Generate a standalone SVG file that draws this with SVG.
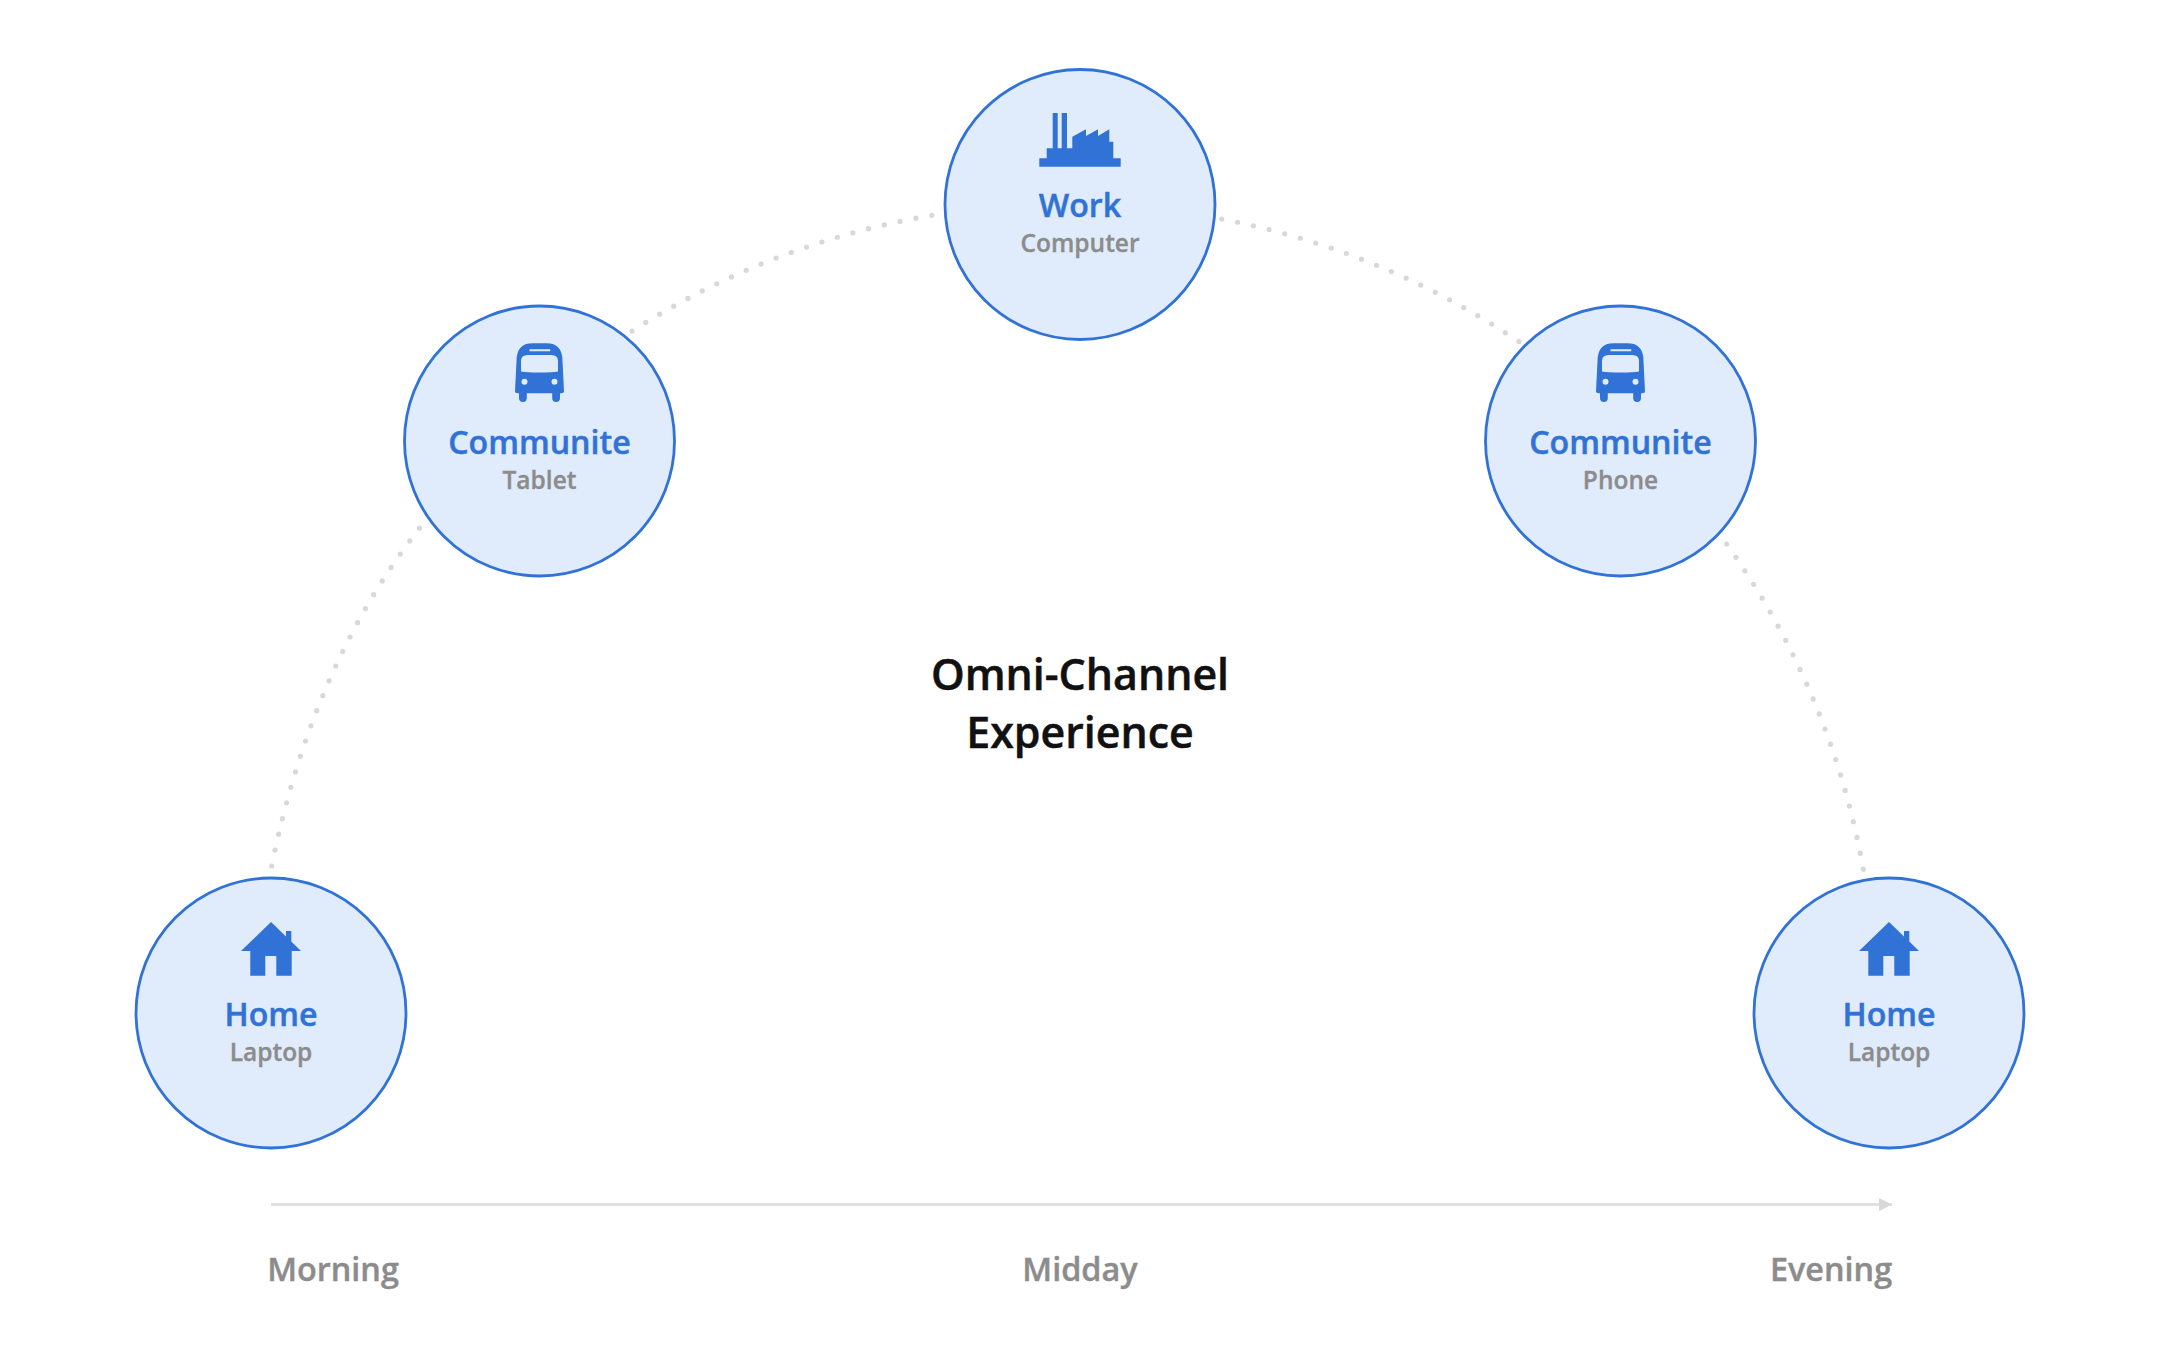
<svg xmlns="http://www.w3.org/2000/svg" width="2160" height="1350" viewBox="0 0 2160 1350">
<style>
text{font-family:"Open Sans","Noto Sans","Liberation Sans",sans-serif;text-anchor:middle;font-weight:600}
.c{fill:#e0ecfc;stroke:#3072d6;stroke-width:2.8}
.i{fill:#3072d6}
.t{fill:#3072d6;stroke:#3072d6;stroke-width:.45;font-size:32.200px}
.s{fill:#8c8c8c;stroke:#8c8c8c;stroke-width:.35;font-size:24.500px}
.a{fill:#8c8c8c;stroke:#8c8c8c;stroke-width:.4;font-size:32.400px}
.h{fill:#111;stroke:#111;stroke-width:.5;font-size:42.900px}
.d{fill:none;stroke:#d8d8d8;stroke-width:5.200;stroke-linecap:round;stroke-dasharray:0 1}
</style>
<defs>
<g id="house"><path class="i" d="M0-91L15-76.500V-82H20.300V-71.500L30-62H20.700V-37.300H5.300V-57H-5.700V-37.300H-20.700V-62H-30Z"/></g>
<g id="bus"><path class="i" fill-rule="evenodd" d="M-23-80Q-23-97.700 -7-97.700H7Q23-97.700 23-80L24.500-49.500Q24.500-47.700 22-47.700H20.500V-43A3.900 3.900 0 0 1 12.700-43V-47.700H-12.700V-43A3.900 3.900 0 0 1 -20.500-43V-47.700H-22Q-24.500-47.700 -24.500-49.500ZM-18.500-80V-69.500Q-13-68.500 0-68.500Q13-68.500 18.500-69.500V-80Q18.500-86 12-86H-12Q-18.500-86 -18.500-80ZM-10-91.700V-89.700H10.700V-91.700ZM-15-62.300A3 3 0 1 0 -15-56.300A3 3 0 1 0 -15-62.300ZM15-62.300A3 3 0 1 0 15-56.300A3 3 0 1 0 15-62.300Z"/></g>
<g id="factory"><path class="i" d="M-40.700-37.300V-45.700H-33.300V-55.700H-27.300V-91H-22.300V-55.700H-18.300V-91H-13V-55.700H-7.700V-67.300L6-74.700V-68L18-74.700V-68L29.300-74.700V-62.300H33.300V-45.700H40.700V-37.300Z"/></g>
<marker id="arr" markerUnits="userSpaceOnUse" markerWidth="14" markerHeight="14" refX="13" refY="7" orient="auto"><path d="M0 0.500L13 7L0 13.500Z" fill="#d8d8d8"/></marker>
</defs>
<g id="connectors">
<path class="d" pathLength="23.010" d="M271.700 866Q312.300 665 419.700 528"/>
<path class="d" pathLength="20.010" d="M632 331Q770.600 242.850 932 215.300"/>
<path class="d" pathLength="20.010" d="M1221.700 219Q1383 250.250 1519 341.700"/>
<path class="d" pathLength="22.010" d="M1726.700 544Q1831.600 692 1863.300 869.300"/>
<path fill="none" stroke="#e0e0e0" stroke-width="2.800" marker-end="url(#arr)" d="M271 1204.500H1892"/>
</g>
<g id="node-home-morning"><circle class="c" cx="271" cy="1013" r="135"/><use href="#house" x="271" y="1013"/><text class="t" x="271" y="1025.500">Home</text><text class="s" x="271" y="1060.500">Laptop</text></g>
<g id="node-communite-tablet"><circle class="c" cx="539.500" cy="441" r="135"/><use href="#bus" x="539.500" y="441"/><text class="t" x="539.500" y="453.500">Communite</text><text class="s" x="539.500" y="488.500">Tablet</text></g>
<g id="node-work"><circle class="c" cx="1080" cy="204.500" r="135"/><use href="#factory" x="1080" y="204"/><text class="t" x="1080" y="216.500">Work</text><text class="s" x="1080" y="251.500">Computer</text></g>
<g id="node-communite-phone"><circle class="c" cx="1620.500" cy="441" r="135"/><use href="#bus" x="1620.500" y="441"/><text class="t" x="1620.500" y="453.500">Communite</text><text class="s" x="1620.500" y="488.500">Phone</text></g>
<g id="node-home-evening"><circle class="c" cx="1889" cy="1013" r="135"/><use href="#house" x="1889" y="1013"/><text class="t" x="1889" y="1025.500">Home</text><text class="s" x="1889" y="1060.500">Laptop</text></g>
<g id="title"><text class="h" x="1080" y="689.500">Omni-Channel</text><text class="h" x="1080" y="747.500">Experience</text></g>
<g id="axis-labels"><text class="a" x="333" y="1281">Morning</text><text class="a" x="1080" y="1281">Midday</text><text class="a" x="1831" y="1281">Evening</text></g>
</svg>
